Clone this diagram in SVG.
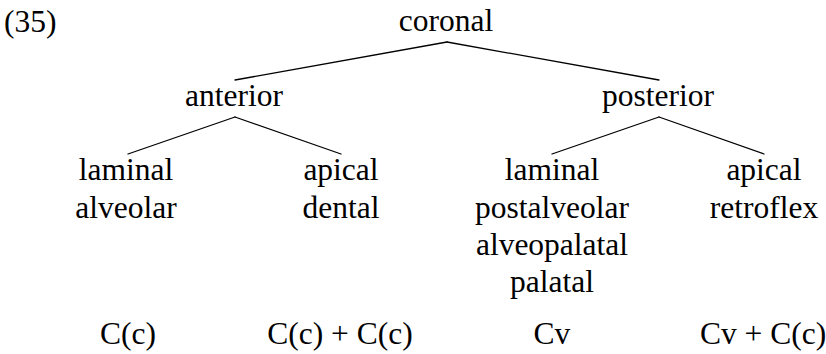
<svg xmlns="http://www.w3.org/2000/svg" width="826" height="354" viewBox="0 0 826 354">
  <style>
    text { font-family: "Liberation Serif", "Times New Roman", serif; font-size: 31.5px; fill: #000; }
    .c { text-anchor: middle; }
    .edge { stroke: #000; stroke-width: 1.3; fill: none; stroke-linecap: round; }
  </style>
  <rect width="826" height="354" fill="#fff"/>

  <!-- example number -->
  <text id="label" x="4" y="32">(35)</text>

  <!-- tree branches -->
  <g id="connectors">
    <line class="edge" x1="447" y1="42" x2="235" y2="80"/>
    <line class="edge" x1="447" y1="42" x2="659" y2="80"/>
    <line class="edge" x1="235" y1="117" x2="128" y2="154"/>
    <line class="edge" x1="235" y1="117" x2="341" y2="154"/>
    <line class="edge" x1="659" y1="117" x2="552" y2="154"/>
    <line class="edge" x1="659" y1="117" x2="764" y2="154"/>
  </g>

  <g id="coronal"><text class="c" x="446" y="31">coronal</text></g>
  <g id="anterior"><text class="c" x="234" y="106">anterior</text></g>
  <g id="posterior"><text class="c" x="658" y="106">posterior</text></g>

  <g id="laminal-alveolar">
    <text class="c" x="126" y="180">laminal</text>
    <text class="c" x="126" y="218">alveolar</text>
  </g>
  <g id="apical-dental">
    <text class="c" x="341" y="180">apical</text>
    <text class="c" x="341" y="218">dental</text>
  </g>
  <g id="laminal-posterior">
    <text class="c" x="552" y="180">laminal</text>
    <text class="c" x="552" y="218">postalveolar</text>
    <text class="c" x="552" y="255">alveopalatal</text>
    <text class="c" x="552" y="292">palatal</text>
  </g>
  <g id="apical-retroflex">
    <text class="c" x="764" y="180">apical</text>
    <text class="c" x="764" y="218">retroflex</text>
  </g>

  <!-- segment formulas (thin spaces around +) -->
  <g id="formulas">
    <text class="c" x="128" y="344">C(c)</text>
    <text class="c" x="340" y="344">C(c) + C(c)</text>
    <text class="c" x="552" y="344">Cv</text>
    <text class="c" x="763" y="344">Cv + C(c)</text>
  </g>
</svg>
